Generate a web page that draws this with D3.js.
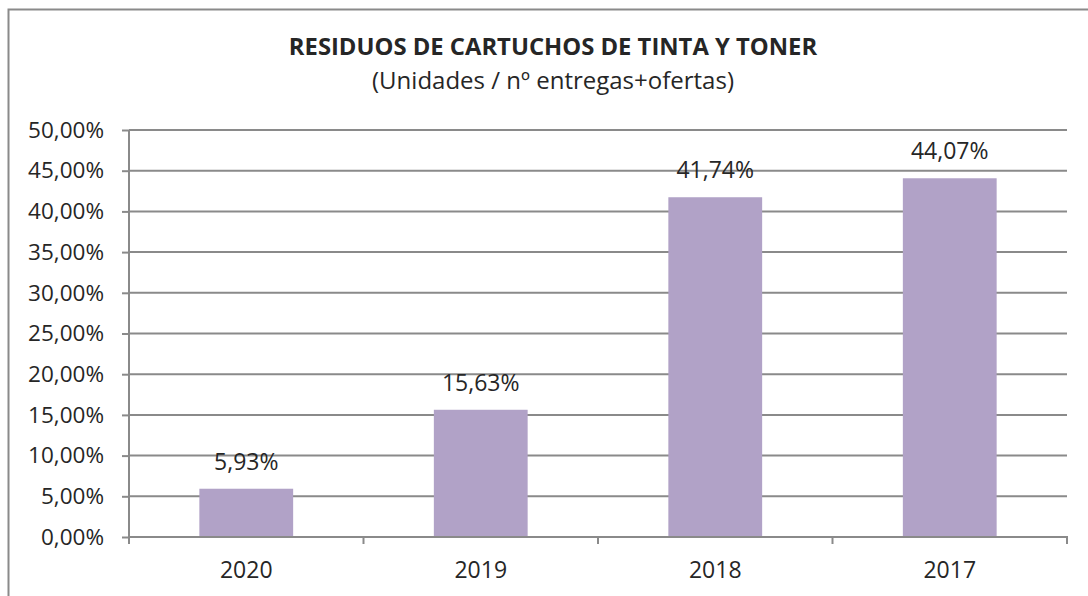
<html>
<head>
<meta charset="utf-8">
<script src="https://d3js.org/d3.v7.min.js"></script>
<style>
  body { margin: 0; background: white; }
  text { font-family: "Open Sans", sans-serif; fill: #262626; }
</style>
</head>
<body>
<svg width="1088" height="596"></svg>
<script>
// chart data
var years = ["2020", "2019", "2018", "2017"];
var values = [0.0593, 0.1563, 0.4174, 0.4407];
var yTicks = [0, 0.05, 0.10, 0.15, 0.20, 0.25, 0.30, 0.35, 0.40, 0.45, 0.50];

var svg = d3.select("svg");

var es = d3.formatLocale({decimal: ",", thousands: ".", grouping: [3], currency: ["", "€"]});
var pct = es.format(".2%");

// outer chart border (right and bottom edges fall outside the picture)
svg.append("rect")
  .attr("x", 8.5).attr("y", 9.5)
  .attr("width", 1200).attr("height", 700)
  .attr("fill", "none")
  .attr("stroke", "#8a8a8a")
  .attr("stroke-width", 2);

svg.append("text")
  .attr("x", 553).attr("y", 55)
  .attr("text-anchor", "middle")
  .style("font-size", "23.8px").style("font-weight", "bold")
  .text("RESIDUOS DE CARTUCHOS DE TINTA Y TONER");

svg.append("text")
  .attr("x", 553).attr("y", 89)
  .attr("text-anchor", "middle")
  .style("font-size", "24px")
  .text("(Unidades / nº entregas+ofertas)");

var x = d3.scaleBand().domain(years).range([129, 1067]).paddingInner(0.6).paddingOuter(0.3);
var y = d3.scaleLinear().domain([0, 0.5]).range([537, 130]);

// gridlines
svg.append("g").selectAll("line").data(yTicks.slice(1)).enter().append("line")
  .attr("x1", 129).attr("x2", 1067)
  .attr("y1", d => y(d)).attr("y2", d => y(d))
  .attr("stroke", "#8a8a8a").attr("stroke-width", 2);

// bars
svg.append("g").selectAll("rect").data(values).enter().append("rect")
  .attr("x", (d, i) => x(years[i]))
  .attr("y", d => y(d))
  .attr("width", x.bandwidth())
  .attr("height", d => y(0) - y(d))
  .attr("fill", "#b1a2c7");

// value labels
svg.append("g").selectAll("text").data(values).enter().append("text")
  .attr("x", (d, i) => x(years[i]) + x.bandwidth() / 2)
  .attr("y", d => y(d) - 19)
  .attr("text-anchor", "middle")
  .style("font-size", "23px")
  .text(d => pct(d));

// y axis
var yAxis = svg.append("g").attr("transform", "translate(129,0)")
  .call(d3.axisLeft(y).tickValues(yTicks).tickFormat(pct).tickSize(7).tickPadding(18));
yAxis.selectAll("path, line").attr("stroke", "#8a8a8a").attr("stroke-width", 2);
yAxis.select(".domain").attr("d", "M0," + y(0.5) + "V" + y(0));
yAxis.selectAll("text").style("font-size", "22.5px").style("font-family", "Open Sans").attr("fill", "#262626");

// x axis with ticks between categories
var step = x.step();
var bounds = [129, 129 + step, 129 + 2 * step, 129 + 3 * step, 1067];
var xg = svg.append("g");
xg.append("line")
  .attr("x1", 128).attr("x2", 1068)
  .attr("y1", y(0)).attr("y2", y(0))
  .attr("stroke", "#8a8a8a").attr("stroke-width", 2);
xg.selectAll(".tk").data(bounds).enter().append("line")
  .attr("x1", d => d).attr("x2", d => d)
  .attr("y1", y(0)).attr("y2", y(0) + 7)
  .attr("stroke", "#8a8a8a").attr("stroke-width", 2);
xg.selectAll("text").data(years).enter().append("text")
  .attr("x", d => x(d) + x.bandwidth() / 2)
  .attr("y", 578)
  .attr("text-anchor", "middle")
  .style("font-size", "23px")
  .text(d => d);
</script>
</body>
</html>
